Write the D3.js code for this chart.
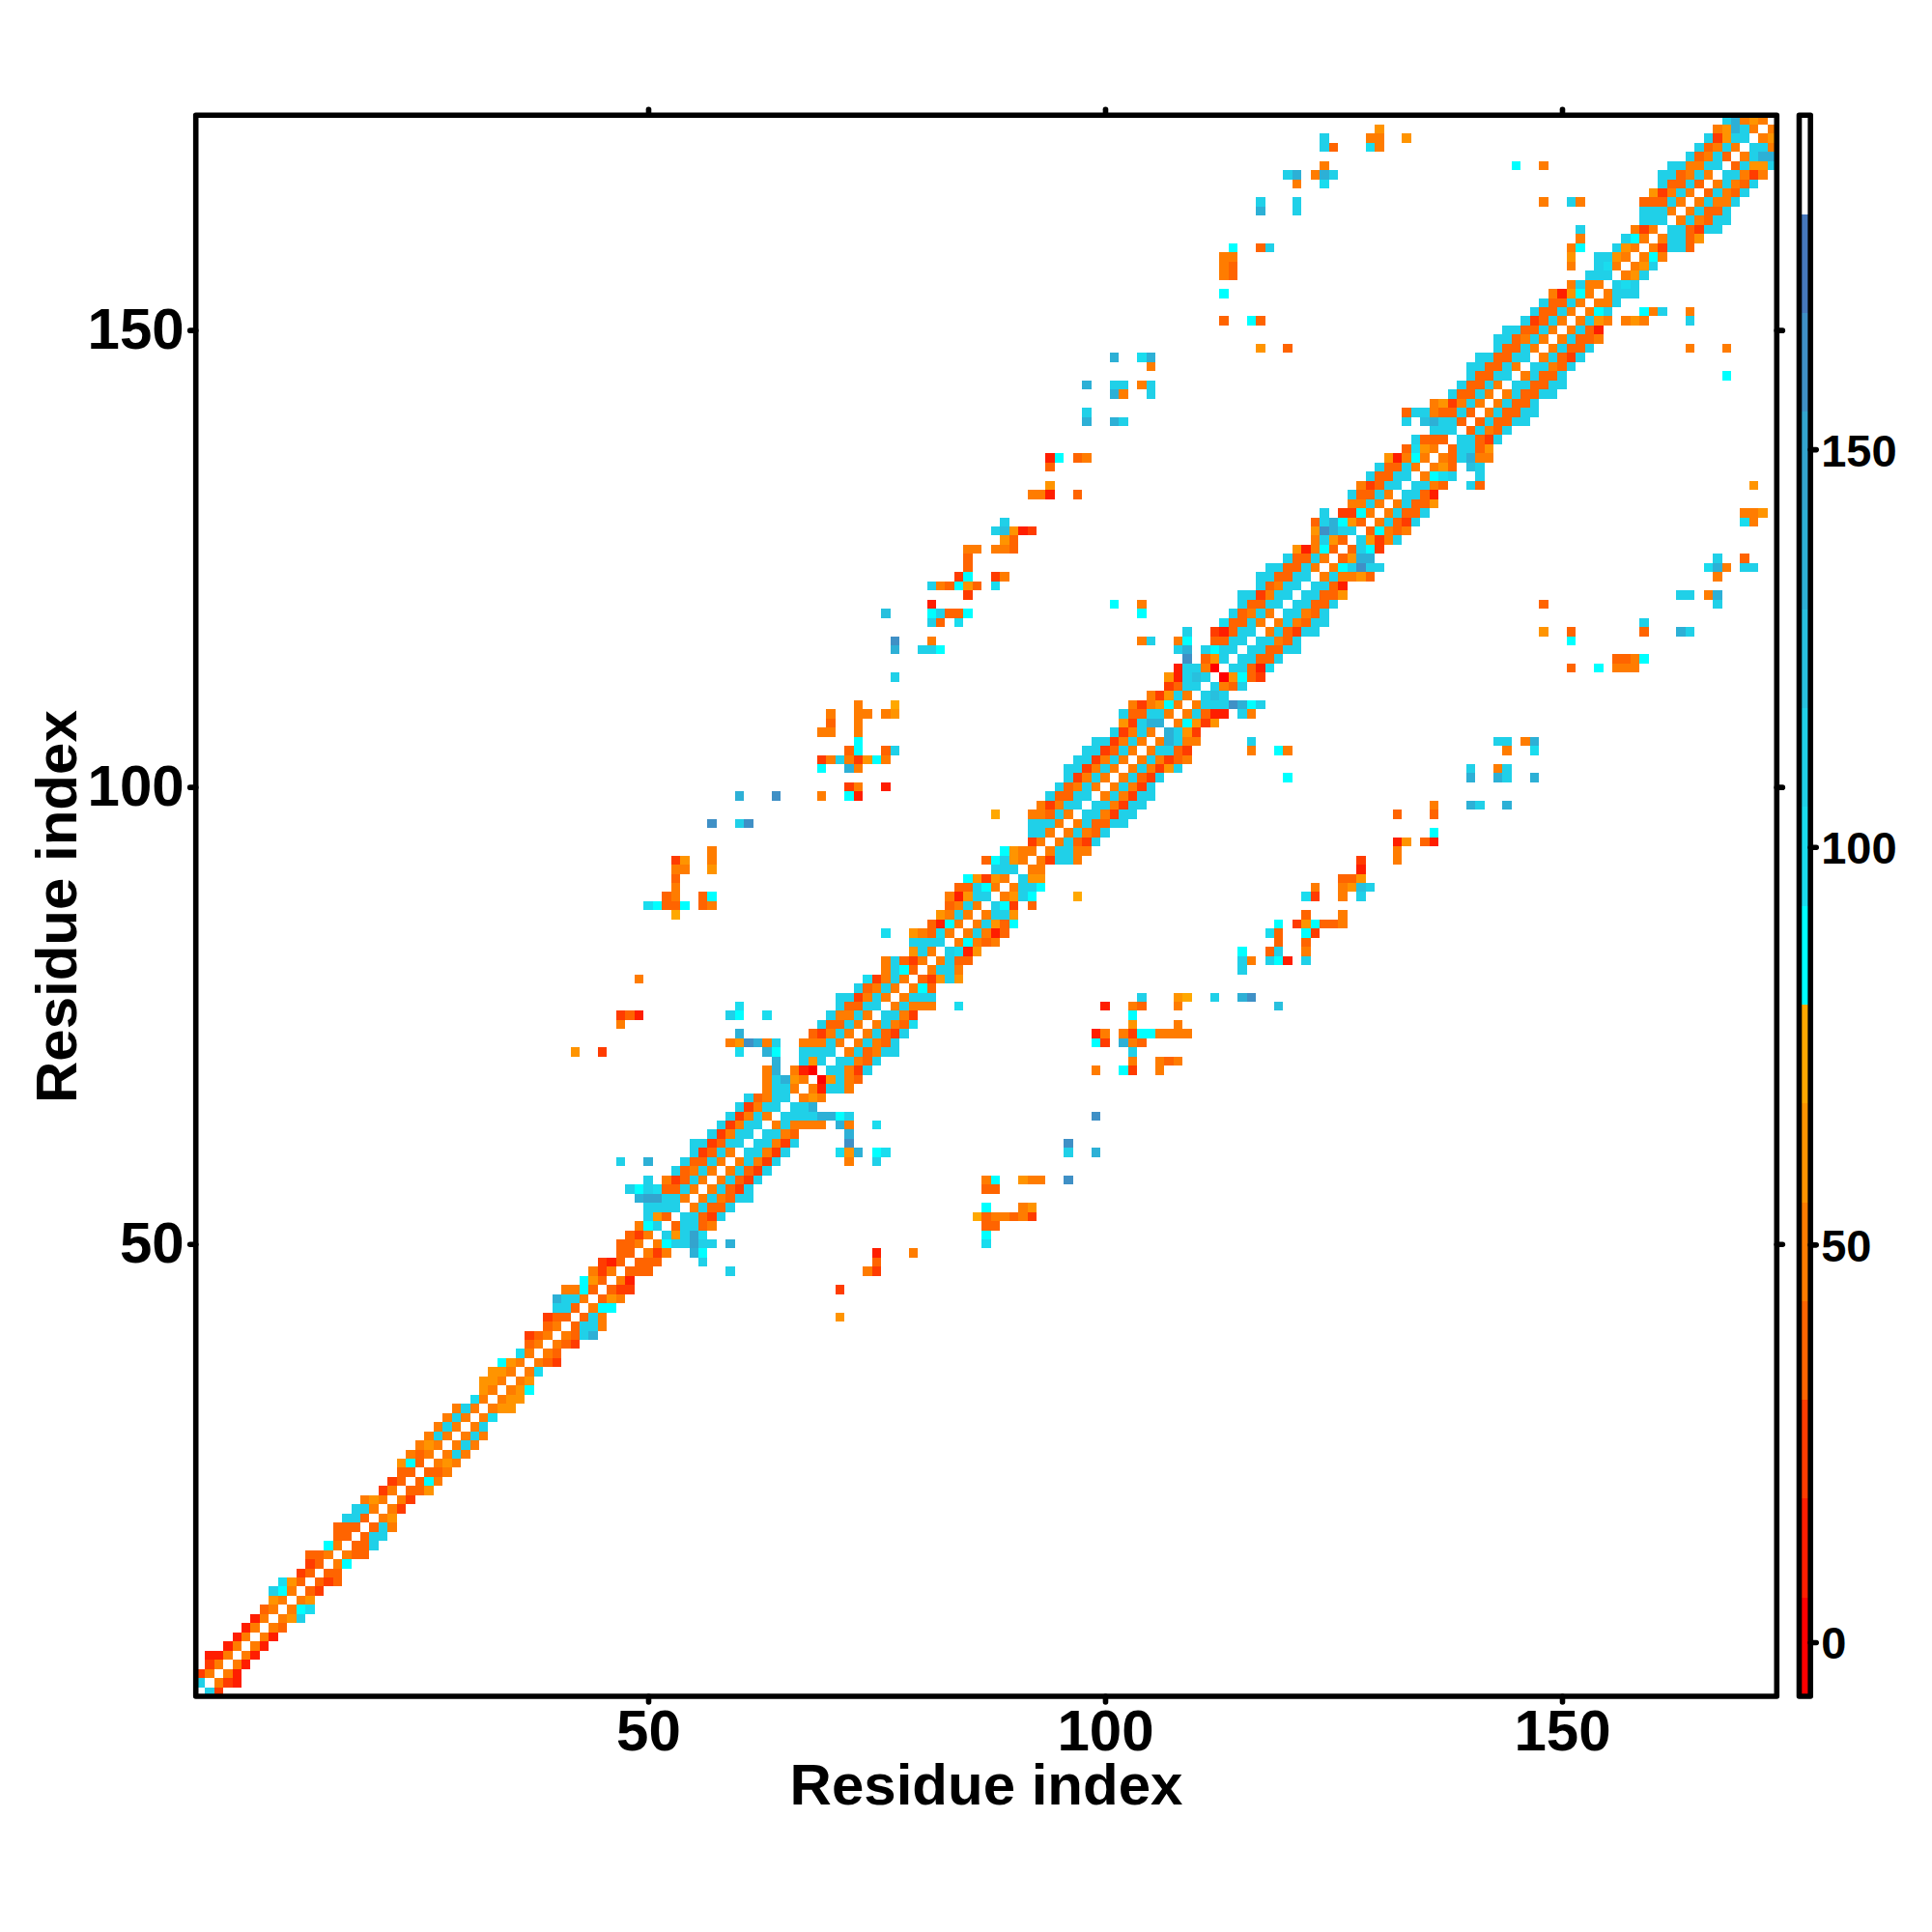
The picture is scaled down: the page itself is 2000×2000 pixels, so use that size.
<!DOCTYPE html>
<html>
<head>
<meta charset="utf-8">
<script src="https://cdn.jsdelivr.net/npm/d3@7"></script>
<style>
  body { margin: 0; background: #fff; }
  text { font-family: "Liberation Sans", Arial, sans-serif; font-weight: bold; fill: #000; }
</style>
</head>
<body>
<div id="chart"></div>
<script>
// colour bands of the bar, low to high
const bandColors = ['#ff0000', '#ff1e00', '#ff3c00', '#ff6400', '#ff7c00', '#ff9400', '#ffa800',
    '#00ffff', '#1adcee', '#20d0e8', '#28c0de', '#2db0d6', '#33a4ce', '#3f90c6', '#4678bc', '#ffffff'];
// value read for each band code 0-f
const bandValues = [-0.6, 11.8, 24.2, 36.7, 49.1, 61.5, 74, 86.4, 98.8, 111.3, 123.7, 136.1, 148.6, 161, 173.4, 185.8];
const legendTicks = [0, 50, 100, 150];
const residueTicks = [50, 100, 150];

// cells just left of the diagonal: one string per residue i, last char is (i, i-1), going back
const nearDiagonal = [
    '', '9', '24', '24', '114', '14', '14', '14', '14', '34',
    '54', '974', '853', '23', '23', '334', '74', '33', '333', '993',
    '994', '454', '24', '23', '33', '573', '434', '454', '494', '494',
    '494', '494', '84', '54', '554', '554', '754', '84', '34', '234',
    '34', '233', '993', 'b994', '4473', '753', '424', '213', '33', '334',
    '324', '479', '953', '9999', 'bcc994', '97983394', '9.42394', '93494', '93394', '92394',
    '992399', '92499', '92499', '92494', '92499', '93499', '4994', '49b54', '4b.410', 'b..959',
    '8..b7..9999', '45db49..44494', '32494', '93394', '94494', '93399', '992494', '93494', '82494', '4973',
    '49324', '594', '9999', '54384', '3174', '5494', '3494', '41599', '33974', '75254',
    '999', '37954', '7544', '24', '994', '9994', '44394', '42499', '93399', '93494',
    '92494', '992494', '992494', '992394', '992494', '92494', '529bb', '933994', '424574', '42594',
    '2399', '519a9', '19940', 'd.359', '9b.9799', '47..3399', '9..21399', '83394', '93494', '93399',
    '992499', '93499', '993399', '993394', '93394', '51473', '4953', '5db99', '39b753', '9.2274',
    '4494', '93394', '42399', '93399', '93394', '51474', '3854', '9333', '999', '9.ab993',
    '39943393', '452494', '93394', '93394', '93399', '993394', '993399', '93394', '993494', '993394',
    '92394', '93394', '93394', '41574', '4944', '999', '4..984', '5..9954', '954', '974',
    '424', '999', '9994', '33394', '52494', '93393', '993494', '994499', '93493', '93494',
    '92599', '45b94', '9b454'
];

// contacts away from the diagonal: residue i, residue j (i > j), band code
const farContacts = [
    [59, 47, '9'], [59, 50, 'b'], [71, 42, '5'], [71, 45, '2'], [74, 47, '4'], [75, 47, '2'], [75, 48, '3'], [75, 49, '1'],
    [79, 49, '4'], [73, 60, 'b'], [75, 59, '9'], [75, 60, '7'], [75, 63, '8'], [76, 60, '8'], [84, 76, '8'], [97, 88, '6'],
    [116, 104, '4'], [116, 105, '9'], [119, 104, '7'], [120, 101, '7'], [120, 104, '4'],
    [159, 151, '4'], [159, 152, '7'], [160, 152, '4'], [161, 152, '9'], [164, 148, '4'], [164, 151, '9'], [164, 152, '4'],
    [168, 145, '7'], [168, 148, '4'],
    [132, 97, '3'], [132, 94, '1'], [133, 94, '5'], [135, 94, '3'], [136, 94, '1'], [132, 93, '4'], [132, 92, '4'],
    [128, 92, '2'], [128, 91, '1'], [126, 90, '3'], [127, 90, '3'], [128, 90, '5'],
    [123, 89, '4'], [126, 89, '4'], [127, 89, '5'], [128, 89, 'a'], [129, 89, '9'],
    [122, 88, '8'], [123, 88, '2'], [126, 88, '4'], [128, 88, '9'], [122, 86, '3'], [126, 86, '4'],
    [119, 85, '7'], [121, 85, '2'], [122, 85, '5'], [123, 85, '7'], [124, 85, '3'], [125, 85, '3'], [126, 85, '4'],
    [118, 84, '8'], [119, 84, '3'], [122, 84, '7'], [123, 84, '2'], [119, 83, '3'], [122, 83, '3'],
    [115, 82, '7'], [118, 82, '3'], [119, 82, '9'], [122, 82, '4'],
    [115, 81, '9'], [116, 81, '4'], [118, 81, '9'], [119, 81, '7'], [120, 81, '1'], [122, 81, '9'], [115, 80, '9'],
    [104, 77, '9'], [108, 77, '5'], [109, 77, '6'], [112, 77, '9'], [115, 77, 'b'], [116, 77, 'd'],
    [100, 76, '1'], [103, 76, '4'], [104, 76, '3'], [108, 76, '4'], [119, 76, 'a'], [103, 75, '7'], [103, 74, '5'], [108, 74, '4'],
    [99, 73, '1'], [100, 73, '4'], [102, 73, '4'], [103, 73, '2'], [104, 73, '7'], [105, 73, '7'],
    [106, 73, '4'], [107, 73, '4'], [108, 73, '4'], [109, 73, '4'],
    [99, 72, '7'], [100, 72, '2'], [102, 72, 'b'], [103, 72, '4'], [104, 72, '3'], [103, 71, '9'],
    [103, 70, '4'], [106, 70, '4'], [107, 70, '3'], [108, 70, '4'], [99, 69, '4'], [102, 69, '7'], [103, 69, '2'], [106, 69, '4'],
    [99, 64, 'd'], [96, 61, 'd'], [96, 60, '9'], [99, 60, 'b'],
    [87, 57, '4'], [88, 57, '7'], [91, 57, '5'], [92, 57, '4'], [93, 57, '4'], [96, 57, 'd'], [87, 56, '3'], [88, 56, '3'],
    [87, 54, '7'], [91, 54, '4'], [92, 54, '5'],
    [86, 53, '6'], [87, 53, '3'], [88, 53, '4'], [89, 53, '4'], [90, 53, '3'], [91, 53, '4'], [92, 53, '2'],
    [87, 52, '3'], [88, 52, '3'], [87, 51, '7'], [87, 50, '8'],
    [171, 133, '5'], [170, 130, '4'], [171, 130, '4'], [172, 130, '5'], [170, 129, '8'], [171, 129, '4'],
    [167, 125, '9'], [170, 125, '3'], [166, 124, '8'], [167, 124, 'b'], [168, 124, '4'], [170, 124, '9'], [171, 124, '9'], [167, 123, '4'],
    [163, 121, '9'], [164, 121, '9'], [166, 121, '4'], [167, 121, 'b'], [148, 120, '3'], [167, 120, '9'],
    [159, 118, '9'], [148, 117, '5'], [151, 117, '3'], [159, 117, '3'], [163, 117, 'b'], [164, 117, '9'], [151, 116, '7'],
    [156, 114, '3'], [157, 114, '3'], [158, 114, '4'], [159, 114, '7'],
    [151, 113, '3'], [154, 113, '7'], [156, 113, '4'], [157, 113, '4'], [158, 113, '4'],
    [143, 105, '9'], [144, 105, '9'], [146, 105, '4'], [147, 105, 'b'], [144, 104, '4'], [147, 104, '8'],
    [140, 102, '9'], [143, 102, '4'], [144, 102, '9'], [140, 101, 'b'], [143, 101, 'b'], [144, 101, '9'], [147, 101, 'b'],
    [136, 98, '4'], [140, 98, 'b'], [141, 98, '9'], [144, 98, 'b'], [136, 97, '3'], [136, 95, '7']
];

const left = 202.7, right = 1839.3, top_ = 119.3, bottom = 1756;
const barLeft = 1862.5, barRight = 1874.2;
const lineWidth = 5.6;

let x = d3.scaleLinear().domain([0.5, 173.5]).range([left, right]);
let y = d3.scaleLinear().domain([0.5, 173.5]).range([bottom, top_]);
let color = d3.scaleQuantize().domain([-6.8, 192]).range(bandColors);
let barY = d3.scaleLinear().domain([-6.8, 192]).range([bottom, top_]);

// expand to both triangles, the map is symmetric
let cells = [];
nearDiagonal.forEach((s, k) => {
    let i = k + 1;
    s.split('').forEach((code, m) => {
        if (code === '.') return;
        let j = i - s.length + m;
        cells.push({ i: i, j: j, v: bandValues[parseInt(code, 16)] });
        cells.push({ i: j, j: i, v: bandValues[parseInt(code, 16)] });
    });
});
farContacts.forEach(([i, j, code]) => {
    cells.push({ i: i, j: j, v: bandValues[parseInt(code, 16)] });
    cells.push({ i: j, j: i, v: bandValues[parseInt(code, 16)] });
});

const svg = d3.select('#chart').append('svg').attr('width', 2000).attr('height', 2000);

svg.append('g')
    .attr('shape-rendering', 'crispEdges')
    .selectAll('rect')
    .data(cells)
    .join('rect')
    .attr('x', (d) => x(d.j - 0.5))
    .attr('y', (d) => y(d.i + 0.5))
    .attr('width', x(1.5) - x(0.5))
    .attr('height', y(0.5) - y(1.5))
    .attr('fill', (d) => color(d.v));

function styleAxis(g, size) {
    g.select('.domain').remove();
    g.selectAll('.tick line').attr('stroke', '#000').attr('stroke-width', lineWidth).attr('stroke-linecap', 'round');
    g.selectAll('.tick text').style('font-size', size + 'px');
}

svg.append('g')
    .attr('transform', `translate(0,${bottom})`)
    .call(d3.axisBottom(x).tickValues(residueTicks).tickSize(6).tickPadding(7))
    .call((g) => styleAxis(g, 60));
svg.append('g')
    .attr('transform', `translate(${left},0)`)
    .call(d3.axisLeft(y).tickValues(residueTicks).tickSize(6).tickPadding(6))
    .call((g) => styleAxis(g, 60));
svg.append('g')
    .attr('transform', `translate(0,${top_})`)
    .call(d3.axisTop(x).tickValues(residueTicks).tickSize(6).tickFormat(''))
    .call((g) => styleAxis(g, 60));
svg.append('g')
    .attr('transform', `translate(${right},0)`)
    .call(d3.axisRight(y).tickValues(residueTicks).tickSize(6).tickFormat(''))
    .call((g) => styleAxis(g, 60));

svg.append('rect')
    .attr('x', left).attr('y', top_)
    .attr('width', right - left).attr('height', bottom - top_)
    .attr('fill', 'none').attr('stroke', '#000').attr('stroke-width', lineWidth).attr('stroke-linejoin', 'round');

svg.append('text')
    .attr('x', (left + right) / 2).attr('y', 1868)
    .attr('text-anchor', 'middle').style('font-size', '60px')
    .text('Residue index');
svg.append('text')
    .attr('transform', `translate(79,${(top_ + bottom) / 2 + 1}) rotate(-90)`)
    .attr('text-anchor', 'middle').style('font-size', '60px')
    .text('Residue index');

// colour bar
svg.append('g')
    .attr('shape-rendering', 'crispEdges')
    .selectAll('rect')
    .data(bandColors)
    .join('rect')
    .attr('x', barLeft)
    .attr('width', barRight - barLeft)
    .attr('y', (d) => barY(color.invertExtent(d)[1]))
    .attr('height', (d) => barY(color.invertExtent(d)[0]) - barY(color.invertExtent(d)[1]))
    .attr('fill', (d) => d);
svg.append('g')
    .attr('transform', `translate(${barRight},0)`)
    .call(d3.axisRight(barY).tickValues(legendTicks).tickSize(6).tickPadding(5))
    .call((g) => styleAxis(g, 47))
    .call((g) => g.selectAll('.tick text').attr('dy', '0.36em'));
svg.append('rect')
    .attr('x', barLeft).attr('y', top_)
    .attr('width', barRight - barLeft).attr('height', bottom - top_)
    .attr('fill', 'none').attr('stroke', '#000').attr('stroke-width', lineWidth).attr('stroke-linejoin', 'round');
</script>
</body>
</html>
